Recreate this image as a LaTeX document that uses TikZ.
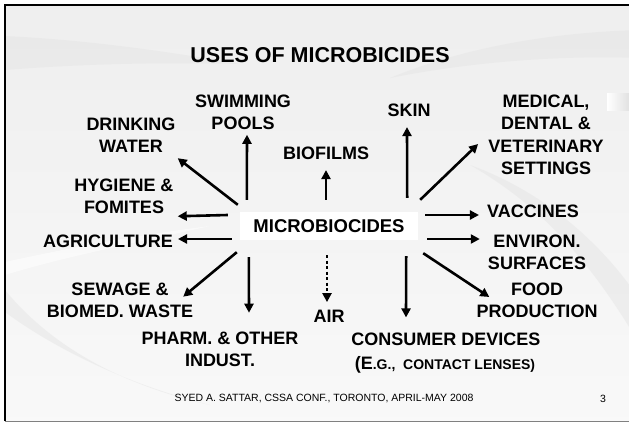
\documentclass[tikz,border=0pt]{standalone}
\usepackage{fontspec}
\setmainfont{Liberation Sans}
\usepackage{xcolor}
\usepackage{tikz}
\usetikzlibrary{arrows.meta}

\begin{document}
\begin{tikzpicture}[x=1pt,y=-1pt,
		lbl/.style={font=\bfseries\fontsize{18}{22.4}\selectfont,align=center,inner sep=0pt},
		hub/.style={fill=white,font=\bfseries\fontsize{18.5}{22}\selectfont,minimum width=178pt,minimum height=28pt,inner sep=0pt},
		arr/.style={line width=2.6pt,-{Triangle[length=9pt,width=9pt]}},
		band/.style={fill=gray!22,opacity=0.45}]
		\useasboundingbox (0,0) rectangle (629,423);
		\fill[white] (0,0) rectangle (629,423);
		\begin{scope}
			\clip (5,5) rectangle (629,421);
			\shade[top color=gray!13,bottom color=gray!5] (5,5) rectangle (640,421);
			\fill[band] (5,36) .. controls (90,40) and (170,52) .. (240,64) .. controls (160,62) and (80,64) .. (5,70) -- cycle;
			\fill[band] (390,78) .. controls (470,45) and (560,32) .. (640,30) -- (640,58) .. controls (560,55) and (470,62) .. (390,78) -- cycle;
			\fill[band] (470,165) .. controls (540,190) and (600,240) .. (640,300) -- (640,345) .. controls (590,260) and (540,205) .. (470,165) -- cycle;
			\fill[band] (5,290) .. controls (50,345) and (120,385) .. (210,405) .. controls (110,380) and (40,338) .. (5,312) -- cycle;
			\fill[white,opacity=0.5] (5,262) .. controls (60,250) and (130,236) .. (210,226) .. controls (130,244) and (60,258) .. (5,275) -- cycle;
			\shade[left color=white,right color=gray!35] (607,93) rectangle (640,110);
		\end{scope}
		\draw[line width=2.2pt] (5,421) -- (5,5) -- (640,5);
		\draw[gray,line width=1.5pt] (5,421.5) -- (640,421.5);

		\node[font=\bfseries\fontsize{21.5}{26}\selectfont] (title) at (320,55) {USES OF MICROBICIDES};
		\node[hub] (mb) at (329,226) {MICROBIOCIDES};

		\node[lbl] (sp) at (243,112.5) {SWIMMING\\POOLS};
		\node[lbl] (dw) at (131,135.5) {DRINKING\\WATER};
		\node[lbl] (hy) at (124,196.5) {HYGIENE \&\\FOMITES};
		\node[lbl] (ag) at (108,241.5) {AGRICULTURE};
		\node[lbl] (sw) at (120,300.5) {SEWAGE \&\\BIOMED. WASTE};
		\node[lbl] (ph) at (220,349.5) {PHARM. \& OTHER\\INDUST.};
		\node[lbl] (air) at (329,316.5) {AIR};
		\node[lbl] (cd) at (446,339.5) {CONSUMER DEVICES};
		\node[inner sep=0pt,font=\bfseries] (cdx) at (445,365) {{\fontsize{18}{22}\selectfont(E}{\fontsize{14}{16}\selectfont.G.,\ \ CONTACT LENSES)}};
		\node[lbl] (fd) at (537,300) {FOOD\\PRODUCTION};
		\node[lbl] (en) at (537,252.5) {ENVIRON.\\SURFACES};
		\node[lbl] (va) at (533,211.5) {VACCINES};
		\node[lbl] (md) at (546,135) {MEDICAL,\\DENTAL \&\\VETERINARY\\SETTINGS};
		\node[lbl] (sk) at (409,110.5) {SKIN};
		\node[lbl] (bf) at (326,153.5) {BIOFILMS};

		\draw[arr] ([xshift=7pt,yshift=12pt]mb.north west) -- ([xshift=4pt,yshift=-4.5pt]sp.south);
		\draw[arr] ([xshift=-2pt,yshift=7pt]mb.north west) -- ([xshift=2pt,yshift=-5pt]dw.south east);
		\draw[arr] ([xshift=-12pt,yshift=11pt]mb.west) -- ([xshift=4pt,yshift=-2pt]hy.south east);
		\draw[arr] ([xshift=-8pt,yshift=-13pt]mb.west) -- ([xshift=5pt,yshift=2.5pt]ag.east);
		\draw[arr] ([xshift=-3pt,yshift=-12pt]mb.south west) -- ([xshift=-10pt,yshift=-14pt]sw.north east);
		\draw[arr] ([xshift=9pt,yshift=-17pt]mb.south west) -- ([xshift=29pt,yshift=19pt]ph.north);
		\draw[arr] ([xshift=-3pt,yshift=12pt]mb.north) -- ([yshift=-10pt]bf.south);
		\draw[arr,dash pattern=on 3pt off 2.5pt] ([xshift=-2pt,yshift=-15pt]mb.south) -- ([xshift=-2pt,yshift=8pt]air.north);
		\draw[arr] ([xshift=-11pt,yshift=14pt]mb.north east) -- ([xshift=-2pt,yshift=-10pt]sk.south);
		\draw[arr] ([xshift=2pt,yshift=12pt]mb.north east) -- ([xshift=-10pt,yshift=-9pt]md.west);
		\draw[arr] ([xshift=7pt,yshift=11pt]mb.east) -- ([xshift=-8pt,yshift=-3.5pt]va.west);
		\draw[arr] ([xshift=9pt,yshift=-13pt]mb.east) -- ([xshift=-8pt,yshift=13.5pt]en.west);
		\draw[arr] ([xshift=5pt,yshift=-13pt]mb.south east) -- ([xshift=13pt,yshift=3pt]fd.west);
		\draw[arr] ([xshift=-12pt,yshift=-16pt]mb.south east) -- ([xshift=-40pt,yshift=15.5pt]cd.north);

		\node[font=\fontsize{10.5}{12}\selectfont] (foot) at (324,399) {SYED A. SATTAR, CSSA CONF., TORONTO, APRIL-MAY 2008};
		\node[font=\fontsize{10.5}{12}\selectfont] (pg) at (603,399) {3};
	\end{tikzpicture}
\end{document}
